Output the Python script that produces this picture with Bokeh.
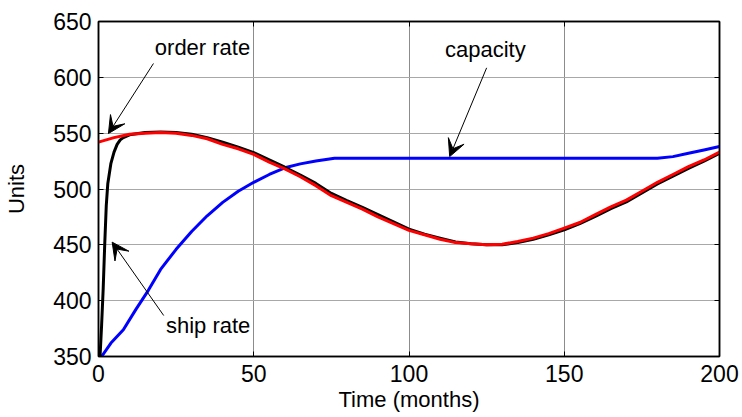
from bokeh.plotting import figure
from bokeh.models import Range1d, LinearAxis, FixedTicker, Arrow, VeeHead
from bokeh.core.properties import value
from bokeh.embed import file_html
from bokeh.resources import INLINE

# ---- data ----
x_ticks = [0, 50, 100, 150, 200]
y_ticks = [350, 400, 450, 500, 550, 600, 650]

t_order = [0, 5, 10, 15, 20, 25, 30, 35, 40, 45, 50, 55, 60, 65, 70, 75, 80, 85, 90, 95,
           100, 105, 110, 115, 120, 125, 130, 135, 140, 145, 150, 155, 160, 165, 170, 175,
           180, 185, 190, 195, 200]
order_rate = [542, 546, 549, 550, 550.5, 550, 548, 545, 540, 536, 531, 524, 518, 511, 503,
              494, 488, 482, 475, 469, 463, 459, 455, 452, 451, 450, 450.5, 453, 456, 460,
              465, 470, 477, 484, 490, 498, 506, 513, 520, 526, 533]

t_ship = [0.5, 1, 1.5, 2, 2.5, 3, 4, 5, 6, 7, 8, 10, 15, 20, 25, 30, 35, 40, 45, 50, 55, 60,
          65, 70, 75, 80, 85, 90, 95, 100, 105, 110, 115, 120, 125, 130, 135, 140, 145, 150,
          155, 160, 165, 170, 175, 180, 185, 190, 195, 200]
ship_rate = [350, 378, 410, 450, 485, 505, 523, 533, 540, 544, 546, 548.5, 550.5, 551, 550.5,
             549, 546, 542, 537.5, 532.5, 526, 519.5, 512.5, 505, 496, 489.5, 483.5, 477,
             470.5, 464, 459.5, 456, 452.5, 451, 450, 450, 452, 455, 459, 463.5, 469, 475.5,
             482.5, 488.5, 496.5, 504.5, 511.5, 518.5, 525, 532]

t_cap = [1, 4, 8, 12, 16, 20, 25, 30, 35, 40, 45, 50, 55, 60, 65, 70, 76, 100, 150, 180,
         185, 190, 195, 200]
capacity = [350, 362, 374, 392, 409, 428, 446, 462, 476, 488, 498, 506, 513, 519, 522.5,
            525, 527.5, 527.5, 527.5, 527.5, 529, 532, 535, 538]

labels = ["order rate", "ship rate", "capacity"]
label_t = [33.5, 35.3, 124.6]
label_v = [626.7, 377.8, 625.0]
arrow_tail_t = [17.7, 21.0, 125.0]
arrow_tail_v = [612.4, 386.7, 608.5]
arrow_head_t = [3.2, 4.4, 113.1]
arrow_head_v = [549.7, 452.4, 529.0]

x_title = "Time (months)"
y_title = "Units"

FONT = "Liberation Sans"

p = figure(width=741, height=417, output_backend="svg", toolbar_location=None,
           x_range=Range1d(0, 200), y_range=Range1d(350, 650),
           min_border_left=98, min_border_right=22, min_border_top=21, min_border_bottom=61)
p.background_fill_color = "white"
p.border_fill_color = "white"
p.outline_line_color = "black"
p.outline_line_width = 1.5

for ax in (p.xaxis[0], p.yaxis[0]):
    ax.major_tick_in = 5
    ax.major_tick_out = 0
    ax.minor_tick_line_color = None
    ax.axis_line_width = 1.5
    ax.major_tick_line_width = 1
    ax.major_label_text_font = FONT
    ax.major_label_text_font_size = "23px"
    ax.major_label_text_color = "black"
    ax.axis_label_text_font = FONT
    ax.axis_label_text_font_size = "22px"
    ax.axis_label_text_font_style = "normal"
    ax.axis_label_text_color = "black"

p.xaxis[0].ticker = FixedTicker(ticks=x_ticks)
p.yaxis[0].ticker = FixedTicker(ticks=y_ticks)
p.xaxis[0].axis_label = x_title
p.yaxis[0].axis_label = y_title
p.xaxis[0].major_label_standoff = 8
p.yaxis[0].major_label_standoff = 7
p.xaxis[0].axis_label_standoff = 2
p.yaxis[0].axis_label_standoff = 21

for loc, tks in (("right", y_ticks), ("above", x_ticks)):
    ax = LinearAxis(ticker=FixedTicker(ticks=tks), major_label_text_font_size="1px",
                    major_label_text_color=None,
                    major_tick_in=5, major_tick_out=0, minor_tick_line_color=None,
                    axis_line_width=1.5, major_label_standoff=0)
    p.add_layout(ax, loc)

p.xgrid.ticker = FixedTicker(ticks=x_ticks)
p.ygrid.ticker = FixedTicker(ticks=y_ticks)
p.xgrid.grid_line_color = "#8c8c8c"
p.ygrid.grid_line_color = "#a8a8a8"
p.xgrid.grid_line_width = 1
p.ygrid.grid_line_width = 1

p.line(t_cap, capacity, line_color="#0000ff", line_width=3)
p.line(t_ship, ship_rate, line_color="black", line_width=3)
p.line(t_order, order_rate, line_color="#ff0000", line_width=3)

for i in range(len(labels)):
    p.add_layout(Arrow(end=VeeHead(size=17, fill_color="black", line_color="black"),
                       x_start=arrow_tail_t[i], y_start=arrow_tail_v[i],
                       x_end=arrow_head_t[i], y_end=arrow_head_v[i],
                       line_color="black", line_width=1))

p.text(x=label_t, y=label_v, text=labels, text_font=value(FONT), text_font_size="22px",
       text_align="center", text_baseline="middle", text_color="black")

open("out.html", "w").write(file_html(p, INLINE))
